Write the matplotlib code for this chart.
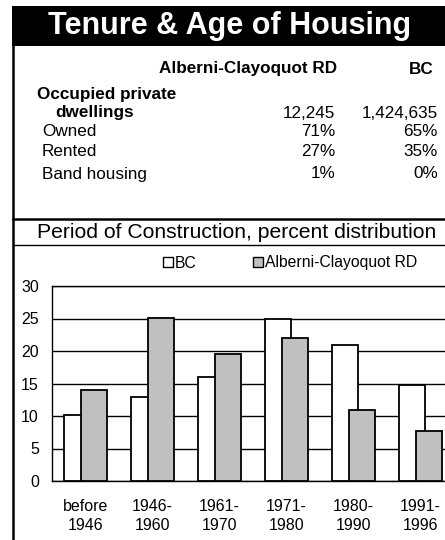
import matplotlib
matplotlib.use("Agg")
import matplotlib.pyplot as plt
from matplotlib.patches import Rectangle, Patch
from matplotlib.lines import Line2D
import numpy as np

plt.rcParams['font.family'] = ['Liberation Sans', 'DejaVu Sans']

W, H = 445, 540

# ---- data ----
title = "Tenure & Age of Housing"
col_headers = ["Alberni-Clayoquot RD", "BC"]
row_labels = ["Owned", "Rented", "Band housing"]
dwellings = ["12,245", "1,424,635"]
alberni_pct = ["71%", "27%", "1%"]
bc_pct = ["65%", "35%", "0%"]

periods = ["before\n1946", "1946-\n1960", "1961-\n1970", "1971-\n1980", "1980-\n1990", "1991-\n1996"]
bc_vals = [10.1, 12.9, 16.0, 25.0, 20.9, 14.7]
alberni_vals = [14.0, 25.1, 19.5, 22.0, 11.0, 7.7]
yticks = [0, 5, 10, 15, 20, 25, 30]

fig = plt.figure(figsize=(W / 100, H / 100), dpi=100)

def fx(x):
    return x / W

def fy(y):
    return 1 - y / H

# Title box
fig.patches.append(Rectangle((fx(12), fy(46)), fx(W - 12 + 5), (46 - 6) / H,
                             transform=fig.transFigure, facecolor='black',
                             edgecolor='none', zorder=0))
fig.text(fx(230), fy(26), title, color='white', fontsize=22, fontweight='bold',
         ha='center', va='center')

# frame lines
fig.add_artist(Line2D([fx(13), fx(13)], [fy(46), fy(545)], color='black', lw=1.8))
fig.add_artist(Line2D([fx(13), fx(450)], [fy(219), fy(219)], color='black', lw=1.8))
fig.add_artist(Line2D([fx(13), fx(450)], [fy(245), fy(245)], color='black', lw=1.0))

# table
fs = 12.3
fig.text(fx(337), fy(69), col_headers[0], fontsize=fs, fontweight='bold', ha='right', va='center')
fig.text(fx(434), fy(69), col_headers[1], fontsize=fs, fontweight='bold', ha='right', va='center')
fig.text(fx(37), fy(94), "Occupied private", fontsize=fs, fontweight='bold', ha='left', va='center')
fig.text(fx(55), fy(112), "dwellings", fontsize=fs, fontweight='bold', ha='left', va='center')
fig.text(fx(335), fy(113), dwellings[0], fontsize=fs, ha='right', va='center')
fig.text(fx(438), fy(113), dwellings[1], fontsize=fs, ha='right', va='center')
row_y = [132, 152, 174]
for lab, a, b, yy in zip(row_labels, alberni_pct, bc_pct, row_y):
    fig.text(fx(42), fy(yy), lab, fontsize=fs, ha='left', va='center')
    fig.text(fx(335), fy(yy), a, fontsize=fs, ha='right', va='center')
    fig.text(fx(438), fy(yy), b, fontsize=fs, ha='right', va='center')

fig.text(fx(237), fy(232), "Period of Construction, percent distribution",
         fontsize=15.2, ha='center', va='center')

# chart axes
ax = fig.add_axes([fx(52), fy(481), 402 / W, (481 - 286) / H])
x = np.arange(len(periods))
bw = 0.388
off = 0.134
ax.bar(x - off, bc_vals, bw, color='white', edgecolor='black', linewidth=1.3, zorder=2)
ax.bar(x + off, alberni_vals, bw, color='#c0c0c0', edgecolor='black', linewidth=1.3, zorder=3)
ax.set_xlim(-0.5, len(periods) - 0.5)
ax.set_ylim(0, 30)
ax.set_yticks(yticks)
ax.set_yticklabels([str(t) for t in yticks])
ax.set_xticks(x)
ax.set_xticklabels(periods, linespacing=1.3)
ax.tick_params(axis='both', length=0, labelsize=11.5)
ax.tick_params(axis='y', pad=9.5)
ax.tick_params(axis='x', pad=13)
ax.yaxis.grid(True, color='black', linewidth=1)
ax.set_axisbelow(True)
for s in ['top', 'left', 'bottom', 'right']:
    ax.spines[s].set_color('black')
    ax.spines[s].set_linewidth(1)

handles = [Patch(facecolor='white', edgecolor='black', linewidth=1),
           Patch(facecolor='#c0c0c0', edgecolor='black', linewidth=1)]
fig.legend(handles, ["BC", "Alberni-Clayoquot RD"], ncol=2, loc='center',
           bbox_to_anchor=(fx(290), fy(263)), frameon=False, fontsize=11.3,
           handlelength=0.65, handleheight=0.65, handletextpad=0.1, columnspacing=3.6)

fig.savefig("out.png", dpi=100)
